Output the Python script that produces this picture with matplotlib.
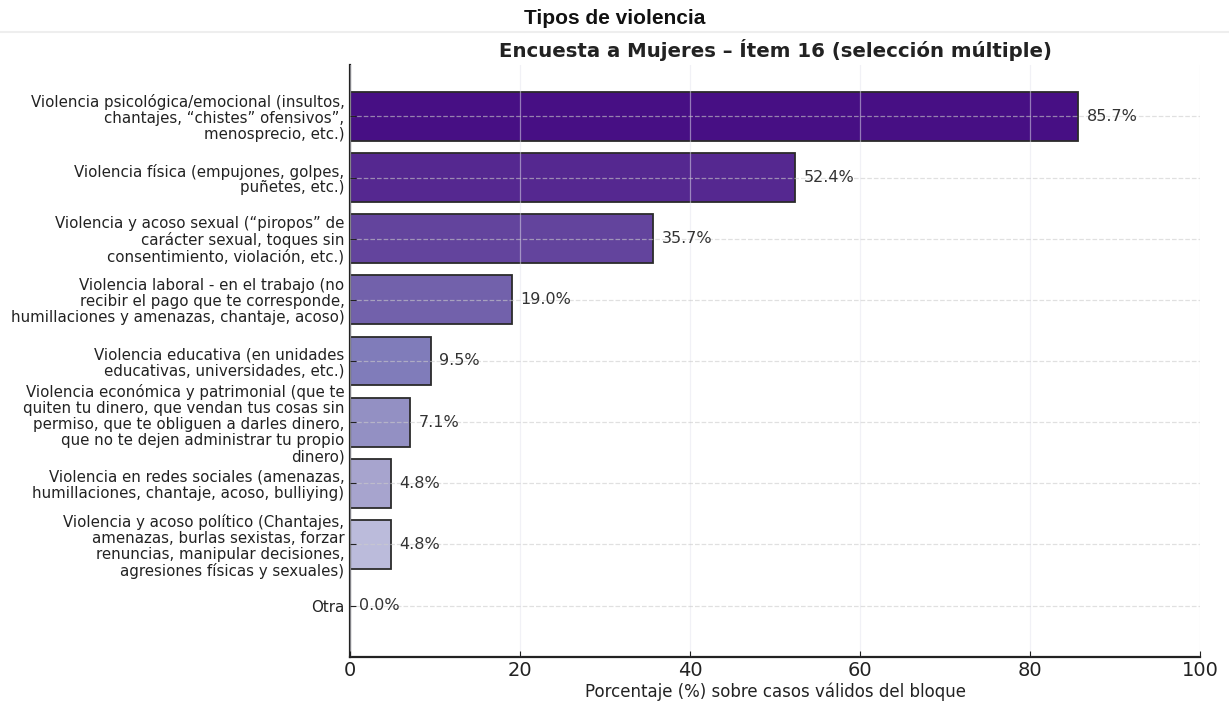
import matplotlib
matplotlib.use("Agg")
import matplotlib.pyplot as plt
import numpy as np
from matplotlib.lines import Line2D

categories = [
    "Violencia psicológica/emocional (insultos,\nchantajes, “chistes” ofensivos”,\nmenosprecio, etc.)",
    "Violencia física (empujones, golpes,\npuñetes, etc.)",
    "Violencia y acoso sexual (“piropos” de\ncarácter sexual, toques sin\nconsentimiento, violación, etc.)",
    "Violencia laboral - en el trabajo (no\nrecibir el pago que te corresponde,\nhumillaciones y amenazas, chantaje, acoso)",
    "Violencia educativa (en unidades\neducativas, universidades, etc.)",
    "Violencia económica y patrimonial (que te\nquiten tu dinero, que vendan tus cosas sin\npermiso, que te obliguen a darles dinero,\nque no te dejen administrar tu propio\ndinero)",
    "Violencia en redes sociales (amenazas,\nhumillaciones, chantaje, acoso, bulliying)",
    "Violencia y acoso político (Chantajes,\namenazas, burlas sexistas, forzar\nrenuncias, manipular decisiones,\nagresiones físicas y sexuales)",
    "Otra",
]
values = [85.7, 52.4, 35.7, 19.0, 9.5, 7.1, 4.8, 4.8, 0.0]
xticks = [0, 20, 40, 60, 80, 100]

fig = plt.figure(figsize=(12.29, 7.05), dpi=100)
ax = fig.add_axes([0.2848, 0.0681, 0.6916, 0.8397])

cmap = plt.get_cmap("Purples")
colors = cmap(np.linspace(0.95, 0.30, len(values)))
y = np.arange(len(values))
ax.barh(y, values, height=0.8, color=colors, edgecolor="#2b2b2b", linewidth=1.3, zorder=1)
ax.invert_yaxis()
ax.set_xlim(0, 100)
ax.set_xticks(xticks)
ax.set_yticks(y)
ax.set_yticklabels(categories, fontsize=10.8, color="#222222", linespacing=1.08)
ax.tick_params(axis="x", labelsize=14, direction="in", length=4, colors="#222222", pad=3)
ax.tick_params(axis="y", direction="in", length=4, colors="#222222", pad=4)
ax.grid(True, axis="y", linestyle="--", color="#cccccc", alpha=0.6, linewidth=0.9, zorder=3)
ax.grid(True, axis="x", linestyle="-", color="#e4e4ee", alpha=0.5, linewidth=0.9, zorder=3)
ax.set_axisbelow(False)
for s in ["top", "right"]:
    ax.spines[s].set_visible(False)
for s in ["left", "bottom"]:
    ax.spines[s].set_linewidth(1.6)
    ax.spines[s].set_color("#222222")

for yi, v in zip(y, values):
    ax.text(v + 1.0, yi, f"{v:.1f}%", va="center", ha="left", fontsize=11.5, color="#333333")

ax.set_xlabel("Porcentaje (%) sobre casos válidos del bloque", fontsize=12, color="#222222", labelpad=2)
ax.set_title("Encuesta a Mujeres – Ítem 16 (selección múltiple)", fontsize=14.2, fontweight="bold",
             color="#222222", pad=6)

fig.text(0.5, 0.974, "Tipos de violencia", ha="center", va="center", fontsize=15,
         fontweight="bold", family="Liberation Sans", color="#111111")
fig.add_artist(Line2D([0, 1], [0.955, 0.955], transform=fig.transFigure, color="#eeeeee", linewidth=1.5))

fig.savefig("out.png", dpi=100)
